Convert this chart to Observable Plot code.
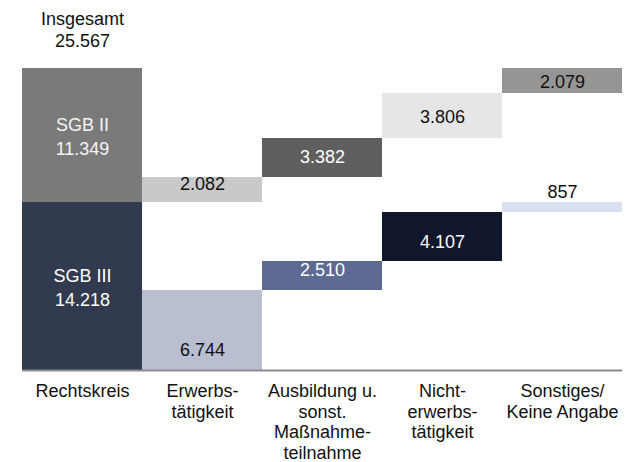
<!DOCTYPE html>
<html>
<head>
<meta charset="utf-8">
<script src="https://cdn.jsdelivr.net/npm/d3@7"></script>
<script src="https://cdn.jsdelivr.net/npm/@observablehq/plot@0.6"></script>
<style>
  html, body { margin: 0; padding: 0; background: #fff; }
  #chart { width: 625px; height: 462px; }
</style>
</head>
<body>
<div id="chart"></div>
<script>
// ---- data ----
const categories = ["Rechtskreis", "Erwerbstätigkeit", "Ausbildung", "Nichterwerbstätigkeit", "Sonstiges"];
const tickLabels = ["Rechtskreis", "Erwerbs-\ntätigkeit", "Ausbildung u.\nsonst.\nMaßnahme-\nteilnahme", "Nicht-\nerwerbs-\ntätigkeit", "Sonstiges/\nKeine Angabe"];
const totalLabel = "Insgesamt";
const total = 25567;
const groupNames = ["SGB III", "SGB II"];
const groupTotals = [14218, 11349];
const sgb3Values = [6744, 2510, 4107, 857];
const sgb2Values = [2082, 3382, 3806, 2079];

// ---- styles (not data) ----
const groupColors = ["#313a4f", "#7a7a7a"];
const sgb3Colors = ["#b9bfd1", "#5d6a92", "#10162b", "#d9e0f0"];
const sgb2Colors = ["#c9c9c9", "#5f5f5f", "#e6e6e6", "#959595"];
const sgb3TextColors = ["#111", "#fff", "#fff", "#111"];
const sgb2TextColors = ["#111", "#fff", "#111", "#111"];
const sgb3Nudge = [18, -8, 3, -17];
const sgb2Nudge = [-8, -3, 0, 0];

const de = d3.formatLocale({decimal: ",", thousands: ".", grouping: [3], currency: ["", " €"]});
const fmt = de.format(",");

const bars = [];
const labels = [];
// Rechtskreis column
bars.push({cat: categories[0], y1: 0, y2: groupTotals[0], fill: groupColors[0]});
bars.push({cat: categories[0], y1: groupTotals[0], y2: groupTotals[0] + groupTotals[1], fill: groupColors[1]});
labels.push({cat: categories[0], y: groupTotals[0] / 2, text: groupNames[0] + "\n" + fmt(groupTotals[0]), fill: "#fff", dy: 0});
labels.push({cat: categories[0], y: groupTotals[0] + groupTotals[1] / 2, text: groupNames[1] + "\n" + fmt(groupTotals[1]), fill: "#f4f4f4", dy: 0});

let c3 = 0, c2 = groupTotals[0];
sgb3Values.forEach((v, i) => {
  bars.push({cat: categories[i + 1], y1: c3, y2: c3 + v, fill: sgb3Colors[i]});
  labels.push({cat: categories[i + 1], y: c3 + v / 2, text: fmt(v), fill: sgb3TextColors[i], dy: sgb3Nudge[i]});
  c3 += v;
});
sgb2Values.forEach((v, i) => {
  bars.push({cat: categories[i + 1], y1: c2, y2: c2 + v, fill: sgb2Colors[i]});
  labels.push({cat: categories[i + 1], y: c2 + v / 2, text: fmt(v), fill: sgb2TextColors[i], dy: sgb2Nudge[i]});
  c2 += v;
});

const font = "'Liberation Sans', Arial, sans-serif";

const chart = Plot.plot({
  width: 625,
  height: 462,
  marginLeft: 22,
  marginRight: 3,
  marginTop: 68,
  marginBottom: 92,
  style: {fontFamily: font, fontSize: "18px", background: "#fff", color: "#111"},
  x: {domain: categories, padding: 0, axis: null},
  y: {domain: [0, total], axis: null},
  color: {type: "identity"},
  marks: [
    Plot.barY(bars, {x: "cat", y1: "y1", y2: "y2", fill: "fill", shapeRendering: "crispEdges"}),
    Plot.ruleY([0], {stroke: "#8c8c8c", strokeWidth: 2}),
    ...labels.map(l => Plot.text([l], {
      x: "cat", y: "y", text: "text", fill: "fill", dy: l.dy,
      fontSize: 18, lineHeight: 1.33, fontFamily: font
    })),
    Plot.text([{cat: categories[0], y: total, text: totalLabel + "\n" + fmt(total)}], {
      x: "cat", y: "y", text: "text", fill: "#111", dy: -40,
      fontSize: 18, lineHeight: 1.22, fontFamily: font
    }),
    Plot.axisX({
      domain: categories,
      tickSize: 0,
      tickPadding: 12,
      label: null,
      tickFormat: d => tickLabels[categories.indexOf(d)],
      fontSize: 18,
      lineHeight: 1.14,
      fill: "#111",
      fontFamily: font
    })
  ]
});
document.getElementById("chart").appendChild(chart);
</script>
</body>
</html>
